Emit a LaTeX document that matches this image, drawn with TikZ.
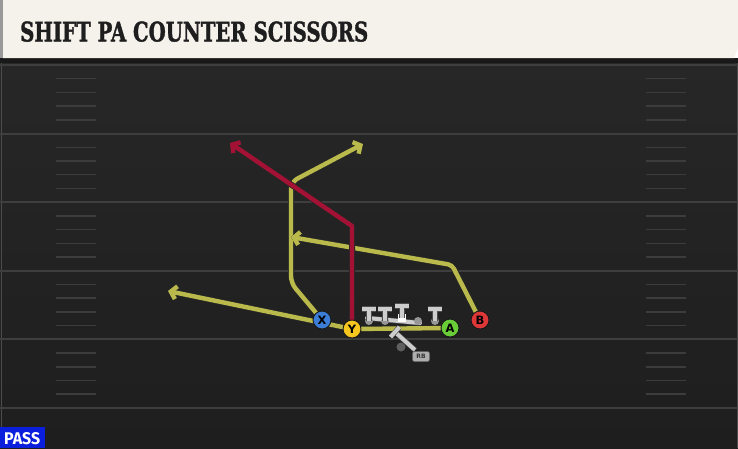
\documentclass[tikz,border=0pt]{standalone}
\usepackage{fontspec}
\usetikzlibrary{arrows.meta}
\newfontfamily\titlefont{DejaVu Serif Bold}[FakeBold=1.6]
\newfontfamily\labfont{DejaVu Sans}
\newfontfamily\passfont{Fira Sans}
\definecolor{fieldtop}{RGB}{39,39,39}
\definecolor{fieldbot}{RGB}{30,30,30}
\definecolor{yardln}{RGB}{62,62,62}
\definecolor{hashln}{RGB}{60,60,60}
\definecolor{cream}{RGB}{245,242,236}
\definecolor{titleink}{RGB}{30,30,30}
\definecolor{routey}{RGB}{186,186,76}
\definecolor{router}{RGB}{163,18,52}
\definecolor{xblue}{RGB}{60,125,215}
\definecolor{ygold}{RGB}{245,198,30}
\definecolor{agreen}{RGB}{105,205,55}
\definecolor{bred}{RGB}{222,55,55}
\definecolor{ltgray}{RGB}{205,205,205}
\definecolor{mdgray}{RGB}{150,150,150}
\definecolor{dkgray}{RGB}{95,95,95}
\definecolor{passblue}{RGB}{10,30,220}
\pgfdeclarelayer{field}
\pgfdeclarelayer{routes}
\pgfsetlayers{field,routes,main}
\begin{document}
\begin{tikzpicture}[x=1pt,y=-1pt,
  route/.style={line width=4.4pt, line cap=round, line join=round, draw=routey,
    preaction={draw=black!85, line width=6pt}},
  redroute/.style={route, draw=router},
  arr/.style={-{Straight Barb[length=5.5pt,width=13pt]}},
  player/.style={circle, draw=black!90, line width=0.9pt, minimum size=18pt, inner sep=0pt,
    font=\labfont\bfseries\fontsize{11.5}{11.5}\selectfont, text=black},
  blk/.style={draw=ltgray, line width=4pt, preaction={draw=black!70, line width=5.2pt}},
  lman/.style={circle, fill=mdgray, minimum size=8pt, inner sep=0pt},
  ctr/.style={rectangle, fill=white, minimum size=8pt, inner sep=0pt},
  rbdot/.style={circle, fill=dkgray, minimum size=9pt, inner sep=0pt},
  rblabel/.style={rectangle, rounded corners=2pt, fill=ltgray!85!black, draw=black!60, line width=0.5pt,
    minimum width=17pt, minimum height=10pt, inner sep=0pt,
    font=\labfont\bfseries\fontsize{6}{6}\selectfont, text=black!80},
  yard/.style={draw=yardln, line width=2pt},
  hash/.style={draw=hashln, line width=1.5pt}
]
\useasboundingbox (0,0) rectangle (738,448);

\begin{pgfonlayer}{field}
  % field
  \shade[top color=fieldtop, bottom color=fieldbot] (0,58) rectangle (738,448);
  \fill[black!90] (0,58) rectangle (738,63);
  \draw[draw=black!70!white, line width=1pt] (1,63) -- (1,448);
  \draw[draw=black!70!white, line width=1pt] (737,63) -- (737,448);
  % yard lines
  \foreach \k in {0,...,5} {
    \draw[yard] (0,65+68.6*\k) -- (738,65+68.6*\k);
  }
  % hash marks
  \foreach \k in {0,...,4} {
    \foreach \j in {1,...,4} {
      \draw[hash] (56,65+68.6*\k+13.7*\j) -- (96,65+68.6*\k+13.7*\j);
      \draw[hash] (646,65+68.6*\k+13.7*\j) -- (686,65+68.6*\k+13.7*\j);
    }
  }
  % title bar
  \fill[black!40] (0,0) rectangle (3,58);
  \fill[cream] (3,0) -- (738,0) -- (738,48) -- (734,58) -- (3,58) -- cycle;
\end{pgfonlayer}

\node[anchor=south west, inner sep=0pt, text=titleink] (title) at (20,42)
  {\resizebox{348pt}{20pt}{\titlefont SHIFT PA COUNTER SCISSORS}};

% PASS tag
\node[anchor=south west, fill=passblue, minimum width=45pt, minimum height=21pt, inner sep=0pt] (passbox) at (0,448) {};
\node[anchor=south west, inner sep=0pt, text=white] (pass) at (4,445)
  {\resizebox{36pt}{12pt}{\passfont\bfseries PASS}};

% players
\node[player, fill=xblue] (X) at (322,320) {X};
\node[player, fill=ygold] (Y) at (352,329) {Y};
\node[player, fill=agreen] (A) at (450,328) {A};
\node[player, fill=bred] (B) at (480,320) {B};

% route way points
\coordinate (xa) at (291,283);
\coordinate (xb) at (291,182);
\coordinate (xend) at (363,144);
\coordinate (ya) at (352,226);
\coordinate (yend) at (230,143);
\coordinate (aend) at (168,291);
\coordinate (ba) at (452,265);
\coordinate (bend) at (291,237);

\begin{pgfonlayer}{routes}
  \draw[route, rounded corners=7pt, arr] (X) -- (xa) -- (xb) -- (xend);
  \draw[route, rounded corners=4pt, arr] (B) -- (ba) -- (bend);
  \draw[route] (A) -- (Y);
  \draw[route, arr] (Y) -- (aend);
  \draw[redroute, arr] (Y) -- (ya) -- (yend);
\end{pgfonlayer}

% offensive line
\coordinate (pullA) at (367,318);
\coordinate (pullB) at (420,323);
\draw[blk, line cap=round] (pullA) -- (pullB);
\foreach \n/\x in {1/369,2/385,4/418,5/435} {
  \node[lman] (L\n) at (\x,321) {};
}
\node[ctr] (L3) at (402,318) {};
\foreach \n in {1,2,3,5} {
  \draw[blk] (L\n.center) -- ++(0,-12) ++(-7,0) -- ++(14,0);
}

% running back
\node[rbdot] (RBd) at (401,347) {};
\coordinate (rbtop) at (395,332);
\coordinate (rbstem) at (415,350);
\coordinate (rbbarA) at (390.5,337);
\coordinate (rbbarB) at (399.5,327);
\draw[blk] (rbtop) -- (rbstem);
\draw[blk] (rbbarA) -- (rbbarB);
\node[rblabel] (RBl) at (421,356.5) {RB};
\end{tikzpicture}
\end{document}
